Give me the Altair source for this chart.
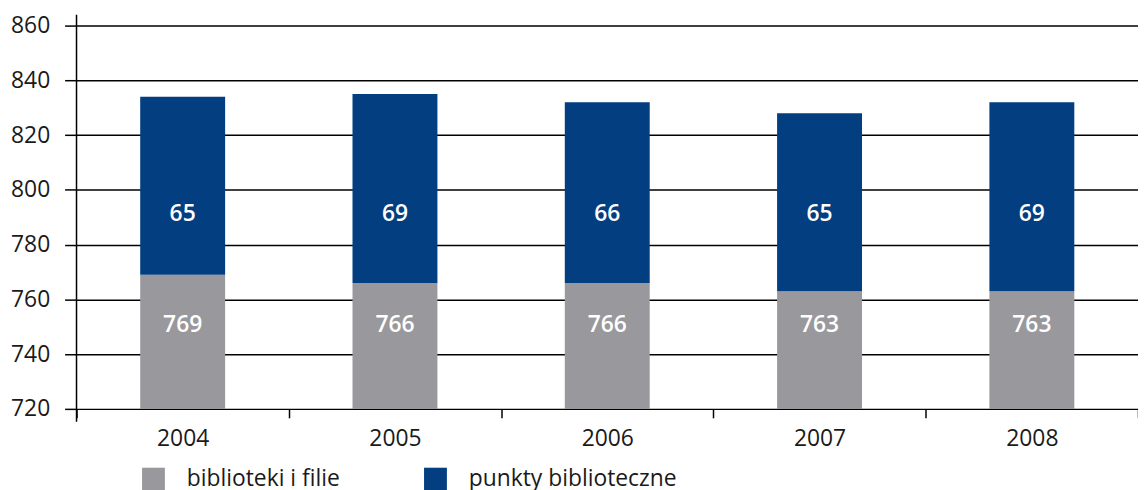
import altair as alt
import pandas as pd

years = ["2004", "2005", "2006", "2007", "2008"]
biblioteki = [769, 766, 766, 763, 763]
punkty = [65, 69, 66, 65, 69]
series_names = ["biblioteki i filie", "punkty biblioteczne"]
colors = ["#99989d", "#023e80"]
y_ticks = [720, 740, 760, 780, 800, 820, 840, 860]

rows = []
for i, yr in enumerate(years):
    rows.append({"year": yr, "series": series_names[0], "value": biblioteki[i], "ord": 0})
    rows.append({"year": yr, "series": series_names[1], "value": punkty[i], "ord": 1})
df = pd.DataFrame(rows)

FONT = "Open Sans"
ydom = [720, 860]

x_scale = alt.Scale(paddingInner=0, paddingOuter=0)

x_enc = alt.X(
    "year:N",
    title=None,
    scale=x_scale,
    axis=alt.Axis(
        domain=False,
        grid=False,
        ticks=True,
        tickBand="extent",
        tickSize=9,
        tickWidth=1.5,
        tickColor="#000000",
        labelFontSize=23,
        labelFont=FONT,
        labelColor="#1a1a1a",
        labelPadding=10,
        labelAngle=0,
    ),
)

bars = alt.Chart(df).mark_bar(clip=True, width=alt.RelativeBandSize(0.4)).encode(
    x=x_enc,
    y=alt.Y(
        "value:Q",
        stack="zero",
        title=None,
        scale=alt.Scale(domain=ydom, nice=False, zero=False),
        axis=alt.Axis(
            values=y_ticks,
            domain=False,
            grid=True,
            gridColor="#000000",
            gridWidth=1.5,
            ticks=True,
            tickSize=12,
            tickWidth=1.5,
            tickColor="#000000",
            labelFontSize=23,
            labelFont=FONT,
            labelColor="#1a1a1a",
            labelPadding=15,
        ),
    ),
    color=alt.Color(
        "series:N",
        scale=alt.Scale(domain=series_names, range=colors),
        legend=alt.Legend(
            orient="none",
            legendX=66,
            legendY=445,
            direction="horizontal",
            title=None,
            symbolType="square",
            symbolSize=529,
            symbolStrokeWidth=0,
            labelFontSize=23,
            labelFont=FONT,
            labelColor="#1a1a1a",
            labelOffset=22,
            labelLimit=0,
            columnPadding=84,
            padding=0,
        ),
    ),
    order=alt.Order("ord:Q", sort="ascending"),
)

labels = alt.Chart(df).transform_calculate(
    labelpos="datum.ord == 0 ? 750.5 : 791.0"
).mark_text(
    color="white", fontSize=23, fontWeight=600, font=FONT, baseline="middle"
).encode(
    x=alt.X("year:N", scale=x_scale),
    y=alt.Y("labelpos:Q", scale=alt.Scale(domain=ydom, nice=False, zero=False)),
    text=alt.Text("value:Q"),
)

vline = alt.Chart(pd.DataFrame({"a": [0]})).mark_rule(
    color="#000000", strokeWidth=1.5
).encode(x=alt.value(0), y=alt.value(-11), y2=alt.value(399))

chart = alt.layer(bars, labels, vline).properties(
    width=1069,
    height=386,
    padding={"left": 69, "top": 16, "right": 0, "bottom": 82},
    autosize=alt.AutoSizeParams(type="none"),
).configure_view(stroke=None)

chart.save("out.html", embed_options={"renderer": "svg", "actions": False})
